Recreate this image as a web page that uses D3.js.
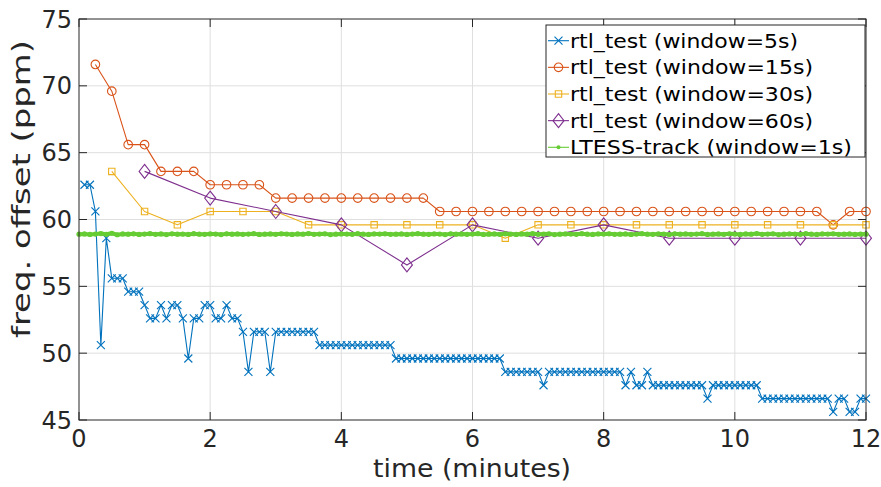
<!DOCTYPE html>
<html>
<head>
<meta charset="utf-8">
<script src="https://cdn.jsdelivr.net/npm/d3@7"></script>
<style>
  body { margin: 0; background: #fff; }
  svg { display: block; font-family: "DejaVu Sans", sans-serif; }
  .grid line { stroke: #dfdfdf; stroke-width: 1; }
</style>
</head>
<body>
<svg id="chart" width="881" height="487"></svg>
<script>
// freq offset readings (ppm), one per window step
var rtl5s = [
  62.6, 62.6, 60.6, 50.6, 58.6, 55.6, 55.6, 55.6, 54.6, 54.6,
  54.6, 53.6, 52.6, 52.6, 53.6, 52.6, 53.6, 53.6, 52.6, 49.6,
  52.6, 52.6, 53.6, 53.6, 52.6, 52.6, 53.6, 52.6, 52.6, 51.6,
  48.6, 51.6, 51.6, 51.6, 48.6, 51.6, 51.6, 51.6, 51.6, 51.6,
  51.6, 51.6, 51.6, 50.6, 50.6, 50.6, 50.6, 50.6, 50.6, 50.6,
  50.6, 50.6, 50.6, 50.6, 50.6, 50.6, 50.6, 49.6, 49.6, 49.6,
  49.6, 49.6, 49.6, 49.6, 49.6, 49.6, 49.6, 49.6, 49.6, 49.6,
  49.6, 49.6, 49.6, 49.6, 49.6, 49.6, 49.6, 48.6, 48.6, 48.6,
  48.6, 48.6, 48.6, 48.6, 47.6, 48.6, 48.6, 48.6, 48.6, 48.6,
  48.6, 48.6, 48.6, 48.6, 48.6, 48.6, 48.6, 48.6, 48.6, 47.6,
  48.6, 47.6, 47.6, 48.6, 47.6, 47.6, 47.6, 47.6, 47.6, 47.6,
  47.6, 47.6, 47.6, 47.6, 46.6, 47.6, 47.6, 47.6, 47.6, 47.6,
  47.6, 47.6, 47.6, 47.6, 46.6, 46.6, 46.6, 46.6, 46.6, 46.6,
  46.6, 46.6, 46.6, 46.6, 46.6, 46.6, 46.6, 45.6, 46.6, 46.6,
  45.6, 45.6, 46.6, 46.6
];
var rtl15s = [
  71.6, 69.6, 65.6, 65.6, 63.6, 63.6, 63.6, 62.6, 62.6, 62.6,
  62.6, 61.6, 61.6, 61.6, 61.6, 61.6, 61.6, 61.6, 61.6, 61.6,
  61.6, 60.6, 60.6, 60.6, 60.6, 60.6, 60.6, 60.6, 60.6, 60.6,
  60.6, 60.6, 60.6, 60.6, 60.6, 60.6, 60.6, 60.6, 60.6, 60.6,
  60.6, 60.6, 60.6, 60.6, 60.6, 59.6, 60.6, 60.6
];
var rtl30s = [
  63.6, 60.6, 59.6, 60.6, 60.6, 60.6, 59.6, 59.6, 59.6, 59.6,
  59.6, 59.6, 58.6, 59.6, 59.6, 59.6, 59.6, 59.6, 59.6, 59.6,
  59.6, 59.6, 59.6, 59.6
];
var rtl60s = [63.6, 61.6, 60.6, 59.6, 56.6, 59.6, 58.6, 59.6, 58.6, 58.6, 58.6, 58.6];
var ltess = [
  58.90, 58.92, 58.88, 58.91, 58.95, 58.89, 58.97, 58.86, 58.92, 58.90,
  58.93, 58.88, 58.91, 58.94, 58.89, 58.92, 58.87, 58.93, 58.90, 58.91,
  58.88, 58.94, 58.90, 58.89, 58.92, 58.91, 58.87, 58.93, 58.90, 58.92,
  58.89, 58.91, 58.94, 58.88, 58.90, 58.92, 58.89, 58.93, 58.91, 58.88,
  58.92, 58.90, 58.95, 58.89, 58.91, 58.93, 58.87, 58.90, 58.92, 58.91,
  58.89, 58.94, 58.90, 58.88, 58.92, 58.91, 58.93, 58.89, 58.90, 58.92,
  58.88, 58.91, 58.94, 58.90, 58.89, 58.92, 58.91, 58.87, 58.93, 58.90,
  58.92, 58.89, 58.91, 58.94, 58.88, 58.90, 58.92, 58.89, 58.93, 58.91,
  58.88, 58.92, 58.90, 58.95, 58.89, 58.91, 58.93, 58.87, 58.90, 58.92,
  58.91, 58.89, 58.94, 58.90, 58.88, 58.92, 58.91, 58.93, 58.89, 58.90,
  58.92, 58.88, 58.91, 58.94, 58.90, 58.89, 58.92, 58.91, 58.87, 58.93,
  58.90, 58.92, 58.89, 58.91, 58.94, 58.88, 58.90, 58.92, 58.89, 58.93,
  58.91, 58.88, 58.92, 58.90, 58.95, 58.89, 58.91, 58.93, 58.87, 58.90,
  58.92, 58.91, 58.89, 58.94, 58.90, 58.88, 58.92, 58.91, 58.93, 58.89,
  58.90, 58.92, 58.88, 58.91, 58.90
];
var xTicks = [0, 2, 4, 6, 8, 10, 12];
var yTicks = [45, 50, 55, 60, 65, 70, 75];
var legendLabels = [
  'rtl_test (window=5s)', 'rtl_test (window=15s)', 'rtl_test (window=30s)',
  'rtl_test (window=60s)', 'LTESS-track (window=1s)'
];

// sample times in minutes, from each series' window step (seconds)
function times(vals, stepSec, first) {
  return vals.map(function(v, i) { return { t: (i + first) * stepSec / 60, v: v }; });
}

var series = [
  { data: times(rtl5s, 5, 1),   color: '#0072bd', marker: 'x',       lw: 1.1 },
  { data: times(rtl15s, 15, 1), color: '#d95319', marker: 'circle',  lw: 1.1 },
  { data: times(rtl30s, 30, 1), color: '#edb120', marker: 'square',  lw: 1.1 },
  { data: times(rtl60s, 60, 1), color: '#7e2f8e', marker: 'diamond', lw: 1.1 },
  { data: times(ltess, 5, 0),   color: '#66cc33', marker: 'dot',     lw: 4 }
];

var L = 79, R = 866, T = 19, B = 420;
var svg = d3.select('#chart');
var x = d3.scaleLinear().domain([0, 12]).range([L, R]);
var y = d3.scaleLinear().domain([45, 75]).range([B, T]);

//gridlines
var grid = svg.append('g').attr('class', 'grid');
grid.selectAll('.gx').data(xTicks.slice(1, -1)).enter().append('line')
  .attr('x1', function(d) { return x(d); }).attr('x2', function(d) { return x(d); })
  .attr('y1', T).attr('y2', B);
grid.selectAll('.gy').data(yTicks.slice(1, -1)).enter().append('line')
  .attr('x1', L).attr('x2', R)
  .attr('y1', function(d) { return y(d); }).attr('y2', function(d) { return y(d); });

function markerPath(type) {
  if (type === 'x') return 'M-4,-4L4,4M-4,4L4,-4';
  if (type === 'circle') return 'M4.3,0A4.3,4.3 0 1,1 -4.3,0A4.3,4.3 0 1,1 4.3,0Z';
  if (type === 'square') return 'M-3.2,-3.2H3.2V3.2H-3.2Z';
  if (type === 'diamond') return 'M0,-7L5.5,0L0,7L-5.5,0Z';
  return null;
}

var plot = svg.append('g');
var line = d3.line().x(function(d) { return x(d.t); }).y(function(d) { return y(d.v); });

series.forEach(function(s) {
  var g = plot.append('g');
  g.append('path')
    .attr('d', line(s.data))
    .attr('fill', 'none')
    .attr('stroke', s.color)
    .attr('stroke-width', s.lw)
    .attr('stroke-linejoin', 'round');
  if (s.marker === 'dot') {
    g.selectAll('circle').data(s.data).enter().append('circle')
      .attr('cx', function(d) { return x(d.t); })
      .attr('cy', function(d) { return y(d.v); })
      .attr('r', 2.6)
      .attr('fill', s.color);
  } else {
    g.selectAll('path.m').data(s.data).enter().append('path')
      .attr('class', 'm')
      .attr('transform', function(d) { return 'translate(' + x(d.t) + ',' + y(d.v) + ')'; })
      .attr('d', markerPath(s.marker))
      .attr('fill', 'none')
      .attr('stroke', s.color)
      .attr('stroke-width', 1.1);
  }
});

//axes box + inward ticks on all sides
var ax = svg.append('g').attr('stroke', '#262626').attr('stroke-width', 1).attr('fill', 'none');
ax.append('rect').attr('x', L).attr('y', T).attr('width', R - L).attr('height', B - T);
xTicks.forEach(function(d) {
  ax.append('line').attr('x1', x(d)).attr('x2', x(d)).attr('y1', B).attr('y2', B - 8);
  ax.append('line').attr('x1', x(d)).attr('x2', x(d)).attr('y1', T).attr('y2', T + 8);
});
yTicks.forEach(function(d) {
  ax.append('line').attr('x1', L).attr('x2', L + 8).attr('y1', y(d)).attr('y2', y(d));
  ax.append('line').attr('x1', R).attr('x2', R - 8).attr('y1', y(d)).attr('y2', y(d));
});

var lab = svg.append('g').attr('fill', '#262626');
lab.selectAll('.xt').data(xTicks).enter().append('text')
  .attr('x', function(d) { return x(d); })
  .attr('y', 447)
  .attr('text-anchor', 'middle')
  .style('font-size', '24px')
  .text(function(d) { return d; });
lab.selectAll('.yt').data(yTicks).enter().append('text')
  .attr('x', 72)
  .attr('y', function(d) { return y(d) + 8.5; })
  .attr('text-anchor', 'end')
  .style('font-size', '24px')
  .text(function(d) { return d; });

lab.append('text')
  .attr('x', 373).attr('y', 477)
  .attr('textLength', 198).attr('lengthAdjust', 'spacingAndGlyphs')
  .style('font-size', '24px')
  .text('time (minutes)');
lab.append('text')
  .attr('transform', 'translate(30,338) rotate(-90)')
  .attr('textLength', 298).attr('lengthAdjust', 'spacingAndGlyphs')
  .style('font-size', '24px')
  .text('freq. offset (ppm)');

//legend
var leg = svg.append('g');
leg.append('rect')
  .attr('x', 546).attr('y', 25).attr('width', 319).attr('height', 132)
  .attr('fill', '#fff').attr('stroke', '#262626').attr('stroke-width', 1);
var legW = [228, 243, 243, 243, 282];
series.forEach(function(s, i) {
  var ly = 40.7 + i * 26.65;
  var row = leg.append('g');
  row.append('line').attr('x1', 548).attr('x2', 569).attr('y1', ly).attr('y2', ly)
    .attr('stroke', s.color).attr('stroke-width', 1.1);
  if (s.marker === 'dot') {
    row.append('circle').attr('cx', 558.5).attr('cy', ly).attr('r', 2).attr('fill', s.color);
  } else {
    row.append('path').attr('transform', 'translate(558.5,' + ly + ')')
      .attr('d', markerPath(s.marker)).attr('fill', 'none')
      .attr('stroke', s.color).attr('stroke-width', 1.1);
  }
  row.append('text')
    .attr('x', 570).attr('y', ly + 7)
    .attr('textLength', legW[i]).attr('lengthAdjust', 'spacingAndGlyphs')
    .style('font-size', '19px')
    .attr('fill', '#000')
    .text(legendLabels[i]);
});
</script>
</body>
</html>
